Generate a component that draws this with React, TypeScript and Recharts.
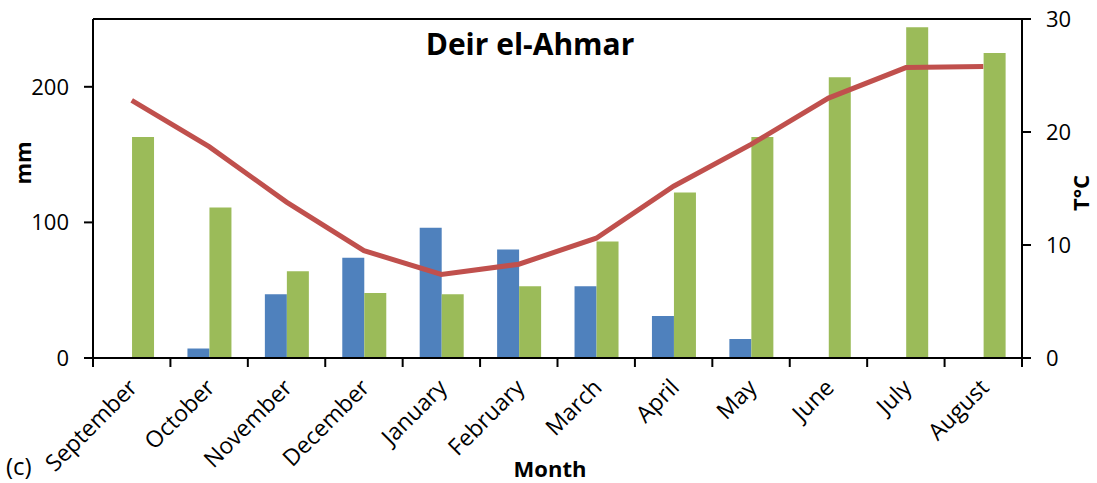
import React from "react";
import {
  ComposedChart,
  Bar,
  Line,
  XAxis,
  YAxis,
  ReferenceLine,
} from "recharts";

const months = [
  "September",
  "October",
  "November",
  "December",
  "January",
  "February",
  "March",
  "April",
  "May",
  "June",
  "July",
  "August",
];
// rainfall (mm)
const rain = [0, 7, 47, 74, 96, 80, 53, 31, 14, 0, 0, 0];
// evaporation (mm)
const evap = [163, 111, 64, 48, 47, 53, 86, 122, 163, 207, 244, 225];
// mean temperature (°C)
const temp = [22.8, 18.7, 13.8, 9.5, 7.4, 8.3, 10.6, 15.2, 18.9, 23.0, 25.7, 25.8];

const mmTicks = [0, 100, 200];
const tTicks = [0, 10, 20, 30];

const data = months.map((m, i) => ({
  month: m,
  rain: rain[i],
  evap: evap[i],
  temp: temp[i],
}));

const W = 1097;
const H = 483;
const LEFT = 93;
const RIGHT = 75;
const TOP = 19;
const BOTTOM = 125;
const BAND = (W - LEFT - RIGHT) / months.length;
const FONT = "Open Sans";

function MonthTick(props: any) {
  const { x, y, payload, index } = props;
  const half = BAND / 2;
  return (
    <g>
      <line x1={x - half} x2={x - half} y1={y} y2={y + 9} stroke="#000" strokeWidth={2} />
      {index === months.length - 1 && (
        <line x1={x + half} x2={x + half} y1={y} y2={y + 9} stroke="#000" strokeWidth={2} />
      )}
      <text
        transform={`translate(${x + 7},${y + 31}) rotate(-45)`}
        textAnchor="end"
        fontSize={23}
        fontFamily={FONT}
        fill="#000"
      >
        {payload.value}
      </text>
    </g>
  );
}

export default function App() {
  const axisStyle = { stroke: "#000", strokeWidth: 2 };
  const tickStyle = { fill: "#000", fontSize: 22, fontFamily: FONT };
  return (
    <div style={{ position: "absolute", left: 0, top: 0, width: W, height: H, background: "#fff" }}>
      <ComposedChart
        width={W}
        height={H}
        data={data}
        margin={{ top: TOP, right: 0, bottom: 0, left: 0 }}
        barCategoryGap="22%"
        barGap={0}
      >
        <XAxis
          dataKey="month"
          height={BOTTOM}
          interval={0}
          tickSize={0}
          tickMargin={0}
          tickLine={false}
          axisLine={axisStyle}
          tick={<MonthTick />}
        />
        <YAxis
          yAxisId="mm"
          width={LEFT}
          domain={[0, 250]}
          ticks={mmTicks}
          tickSize={9}
          tickMargin={15}
          axisLine={axisStyle}
          tickLine={axisStyle}
          tick={tickStyle}
        />
        <YAxis
          yAxisId="t"
          orientation="right"
          width={RIGHT}
          domain={[0, 30]}
          ticks={tTicks}
          tickSize={9}
          tickMargin={15}
          axisLine={axisStyle}
          tickLine={axisStyle}
          tick={tickStyle}
        />
        <ReferenceLine yAxisId="mm" y={250} stroke="#000" strokeWidth={2} />
        <Bar yAxisId="mm" dataKey="rain" fill="#4F81BD" isAnimationActive={false} />
        <Bar yAxisId="mm" dataKey="evap" fill="#9BBB59" isAnimationActive={false} />
        <Line
          yAxisId="t"
          dataKey="temp"
          type="linear"
          stroke="#C0504D"
          strokeWidth={5}
          dot={false}
          isAnimationActive={false}
        />
      </ComposedChart>
      <svg
        width={W}
        height={H}
        style={{ position: "absolute", left: 0, top: 0, pointerEvents: "none" }}
      >
        <text x={530} y={55} textAnchor="middle" fontSize={30} fontWeight="bold" fontFamily={FONT}>
          Deir el-Ahmar
        </text>
        <text x={550} y={477} textAnchor="middle" fontSize={22} fontWeight="bold" fontFamily={FONT}>
          Month
        </text>
        <text x={6} y={475} fontSize={24} fontFamily={FONT}>
          (c)
        </text>
        <text
          transform="translate(31,163) rotate(-90)"
          textAnchor="middle"
          fontSize={22}
          fontWeight="bold"
          fontFamily={FONT}
        >
          mm
        </text>
        <text
          transform="translate(1089,193) rotate(-90)"
          textAnchor="middle"
          fontSize={22}
          fontWeight="bold"
          fontFamily={FONT}
        >
          T°C
        </text>
      </svg>
    </div>
  );
}
